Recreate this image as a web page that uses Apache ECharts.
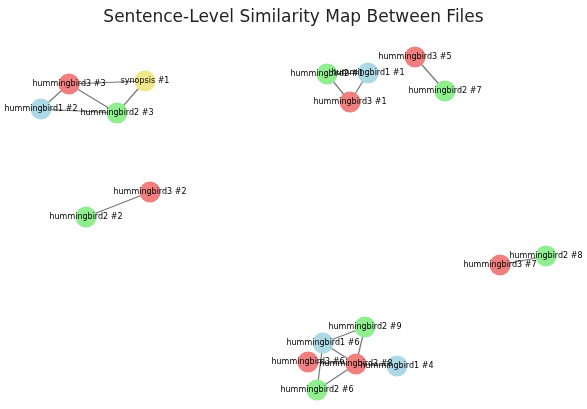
<!DOCTYPE html>
<html><head><meta charset="utf-8">
<script src="https://cdn.jsdelivr.net/npm/echarts@6/dist/echarts.min.js"></script>
<style>html,body{margin:0;padding:0;background:#fff}#c{width:587px;height:409px}</style>
</head><body><div id="c"></div>
<script>
const nodeNames = ["hummingbird3 #3","synopsis #1","hummingbird1 #2","hummingbird2 #3",
 "hummingbird2 #1","hummingbird1 #1","hummingbird3 #1","hummingbird3 #5","hummingbird2 #7",
 "hummingbird3 #2","hummingbird2 #2","hummingbird2 #8","hummingbird3 #7",
 "hummingbird2 #9","hummingbird1 #6","hummingbird3 #6","hummingbird3 #8","hummingbird1 #4","hummingbird2 #6"];
const nodeX = [69,145,41,117, 327,368,350,415,445, 150,86,546,500, 365,323,308,356,397,317];
const nodeY = [84,81,109,113, 74,73,102,57,91, 192,217,256,265, 327,343,362,364,366,390];
const edges = [["hummingbird3 #3","synopsis #1"],["hummingbird3 #3","hummingbird1 #2"],["hummingbird3 #3","hummingbird2 #3"],
 ["synopsis #1","hummingbird2 #3"],["hummingbird1 #2","hummingbird2 #3"],
 ["hummingbird2 #1","hummingbird3 #1"],["hummingbird1 #1","hummingbird3 #1"],["hummingbird2 #1","hummingbird1 #1"],
 ["hummingbird3 #5","hummingbird2 #7"],["hummingbird3 #2","hummingbird2 #2"],["hummingbird2 #8","hummingbird3 #7"],
 ["hummingbird2 #9","hummingbird1 #6"],["hummingbird2 #9","hummingbird3 #8"],["hummingbird1 #6","hummingbird3 #8"],
 ["hummingbird1 #6","hummingbird2 #6"],["hummingbird3 #6","hummingbird3 #8"],["hummingbird2 #6","hummingbird3 #8"],
 ["hummingbird3 #8","hummingbird1 #4"]];
const colorOf = n => n.startsWith("hummingbird1") ? "#add8e6" : n.startsWith("hummingbird2") ? "#90ee90" : n.startsWith("hummingbird3") ? "#f08080" : "#f0e68c";
const chart = echarts.init(document.getElementById('c'));
chart.setOption({
 animation:false,
 title:{text:"Sentence-Level Similarity Map Between Files",left:'center',top:4,textStyle:{fontFamily:'DejaVu Sans',fontWeight:'normal',fontSize:17,color:'#222'}},
 grid:{left:0,right:0,top:0,bottom:0},
 xAxis:{type:'value',min:0,max:587,show:false},
 yAxis:{type:'value',min:0,max:409,inverse:true,show:false},
 series:[{type:'graph',coordinateSystem:'cartesian2d',symbolSize:21,
  data:nodeNames.map((n,i)=>({name:n,value:[nodeX[i],nodeY[i]],itemStyle:{color:colorOf(n)}})),
  links:edges.map(e=>({source:e[0],target:e[1]})),
  lineStyle:{color:'#777',width:1.2,opacity:1},
  label:{show:true,position:'inside',fontFamily:'DejaVu Sans',fontSize:8,color:'#000'},
  z:2}]
});
</script></body></html>
